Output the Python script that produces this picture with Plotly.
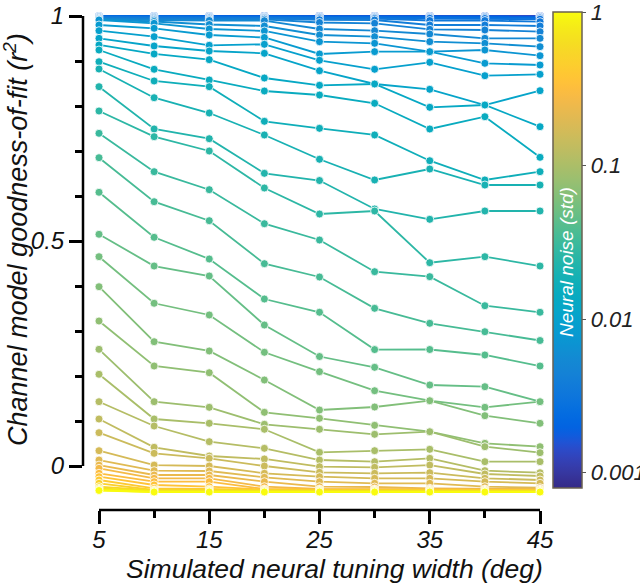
import numpy as np
import plotly.graph_objects as go

# ---------------- data ----------------
widths = [5, 10, 15, 20, 25, 30, 35, 40, 45]

noise_std = [0.000794, 0.000919, 0.001063, 0.001229, 0.001422, 0.001645, 0.001904,
             0.002203, 0.002547, 0.002947, 0.003409, 0.003944, 0.004562, 0.005278,
             0.006106, 0.007063, 0.008171, 0.009451, 0.010934, 0.012648, 0.014631,
             0.016926, 0.019580, 0.022650, 0.026202, 0.030310, 0.035063, 0.040561,
             0.046920, 0.054278, 0.062790, 0.072630, 0.084030, 0.097200, 0.112460,
             0.130090, 0.150490, 0.174080, 0.201400, 0.232970, 0.269500, 0.311760,
             0.360660, 0.417220, 0.482640, 0.558340, 0.645890, 0.747170, 0.864340, 1.0]

r2 = [
    [1.0, 1.0, 1.0, 1.0, 1.0, 1.0, 1.0, 1.0, 1.0],
    [1.0, 1.0, 1.0, 1.0, 1.0, 1.0, 1.0, 1.0, 1.0],
    [1.0, 1.0, 1.0, 1.0, 1.0, 1.0, 1.0, 1.0, 1.0],
    [1.0, 1.0, 1.0, 1.0, 1.0, 1.0, 1.0, 1.0, 1.0],
    [1.0, 1.0, 1.0, 1.0, 1.0, 1.0, 1.0, 1.0, 1.0],
    [1.0, 1.0, 1.0, 1.0, 1.0, 1.0, 0.9993, 0.9993, 0.9993],
    [1.0, 1.0, 1.0, 0.9993, 0.9993, 0.9993, 0.9987, 0.9987, 0.9984],
    [0.9996, 0.9993, 0.9991, 0.9987, 0.9984, 0.9984, 0.9978, 0.9978, 0.9973],
    [0.9991, 0.9984, 0.9982, 0.9978, 0.9973, 0.9973, 0.9967, 0.9964, 0.9956],
    [0.9984, 0.9973, 0.9971, 0.9969, 0.9960, 0.9960, 0.9949, 0.9944, 0.9929],
    [0.9973, 0.9960, 0.9956, 0.9956, 0.9942, 0.9944, 0.9900, 0.9900, 0.9873],
    [0.9960, 0.9944, 0.9933, 0.9942, 0.9916, 0.9911, 0.9800, 0.9800, 0.9778],
    [0.9947, 0.9927, 0.9916, 0.9927, 0.9856, 0.9838, 0.9704, 0.9689, 0.9651],
    [0.9933, 0.9907, 0.9900, 0.9896, 0.9711, 0.9673, 0.9600, 0.9504, 0.9504],
    [0.9922, 0.9878, 0.9811, 0.9778, 0.9578, 0.9540, 0.9429, 0.9393, 0.9318],
    [0.9911, 0.9838, 0.9711, 0.9667, 0.9429, 0.9393, 0.9207, 0.9244, 0.9118],
    [0.9800, 0.9727, 0.9578, 0.9522, 0.9156, 0.9207, 0.9207, 0.8949, 0.8911],
    [0.9673, 0.9540, 0.9349, 0.9371, 0.9016, 0.8816, 0.8971, 0.8673, 0.8704],
    [0.9504, 0.9333, 0.9222, 0.9171, 0.8784, 0.8489, 0.8371, 0.8022, 0.8340],
    [0.9356, 0.9156, 0.9029, 0.8622, 0.8460, 0.8489, 0.7971, 0.8022, 0.7540],
    [0.9244, 0.8816, 0.8578, 0.8333, 0.8244, 0.8060, 0.7489, 0.7762, 0.6860],
    [0.8984, 0.8556, 0.8429, 0.7660, 0.7504, 0.7356, 0.6784, 0.6356, 0.6540],
    [0.8822, 0.8184, 0.7844, 0.7356, 0.6816, 0.6356, 0.6600, 0.6244, 0.6244],
    [0.8429, 0.7489, 0.7273, 0.6504, 0.6344, 0.5711, 0.5482, 0.5667, 0.5667],
    [0.7889, 0.7318, 0.7000, 0.6178, 0.5600, 0.5667, 0.4518, 0.4651, 0.4444],
    [0.7393, 0.6540, 0.6140, 0.5384, 0.5022, 0.4318, 0.4207, 0.3562, 0.3416],
    [0.6851, 0.5873, 0.5451, 0.4496, 0.4200, 0.3504, 0.3171, 0.2984, 0.2789],
    [0.6082, 0.5082, 0.4600, 0.3711, 0.3416, 0.2587, 0.2589, 0.2467, 0.2222],
    [0.5149, 0.4444, 0.4222, 0.3133, 0.2433, 0.2193, 0.1800, 0.1762, 0.1429],
    [0.4651, 0.3616, 0.3356, 0.2527, 0.2096, 0.1673, 0.1451, 0.1304, 0.1429],
    [0.3984, 0.2762, 0.2556, 0.1911, 0.1244, 0.1311, 0.1451, 0.1118, 0.0949],
    [0.3222, 0.2222, 0.2073, 0.1193, 0.1060, 0.0904, 0.0762, 0.0504, 0.0429],
    [0.2593, 0.1429, 0.1304, 0.0927, 0.0816, 0.0704, 0.0762, 0.0429, 0.0296],
    [0.2038, 0.1044, 0.0949, 0.0816, 0.0304, 0.0340, 0.0371, 0.0096, 0.0096],
    [0.1429, 0.0889, 0.0540, 0.0393, 0.0133, 0.0096, 0.0171, -0.0104, -0.0149],
    [0.1044, 0.0416, 0.0222, 0.0156, -0.0016, -0.0029, 0.0020, -0.0178, -0.0222],
    [0.0740, 0.0282, 0.0171, 0.0000, -0.0140, -0.0162, -0.0149, -0.0273, -0.0311],
    [0.0340, 0.0020, 0.0000, -0.0162, -0.0238, -0.0273, -0.0273, -0.0349, -0.0384],
    [0.0133, -0.0104, -0.0111, -0.0251, -0.0349, -0.0384, -0.0384, -0.0460, -0.0482],
    [0.0020, -0.0200, -0.0200, -0.0349, -0.0460, -0.0467, -0.0496, -0.0511, -0.0511],
    [-0.0051, -0.0273, -0.0273, -0.0460, -0.0511, -0.0511, -0.0511, -0.0522, -0.0522],
    [-0.0162, -0.0349, -0.0349, -0.0511, -0.0522, -0.0522, -0.0522, -0.0533, -0.0533],
    [-0.0238, -0.0422, -0.0460, -0.0522, -0.0533, -0.0533, -0.0533, -0.0533, -0.0533],
    [-0.0311, -0.0496, -0.0511, -0.0533, -0.0533, -0.0533, -0.0533, -0.0544, -0.0544],
    [-0.0384, -0.0533, -0.0533, -0.0544, -0.0544, -0.0544, -0.0544, -0.0544, -0.0544],
    [-0.0460, -0.0544, -0.0544, -0.0544, -0.0544, -0.0544, -0.0544, -0.0556, -0.0556],
    [-0.0496, -0.0556, -0.0556, -0.0556, -0.0556, -0.0556, -0.0556, -0.0556, -0.0556],
    [-0.0518, -0.0556, -0.0556, -0.0556, -0.0556, -0.0556, -0.0556, -0.0567, -0.0567],
    [-0.0533, -0.0578, -0.0578, -0.0578, -0.0578, -0.0578, -0.0578, -0.0578, -0.0578],
    [-0.0544, -0.0578, -0.0578, -0.0578, -0.0578, -0.0578, -0.0578, -0.0578, -0.0578],
]

x_major_ticks = [5, 15, 25, 35, 45]
x_minor_ticks = [10, 20, 30, 40]
y_major_ticks = [0, 0.5, 1]
y_major_text = ["0", "0.5", "1"]
y_minor_ticks = [0.1, 0.2, 0.3, 0.4, 0.6, 0.7, 0.8, 0.9]
cbar_ticks = [0.001, 0.01, 0.1, 1]
cbar_tick_text = ["0.001", "0.01", "0.1", "1"]

x_title = "Simulated neural tuning width (deg)"
y_title = "Channel model goodness-of-fit (<i>r</i><sup>2</sup>)"
cbar_title = "Neural noise (std)"

# ---------------- style ----------------
PARULA = [
    (0.2081, 0.1663, 0.5292), (0.2116, 0.1898, 0.5777), (0.2123, 0.2138, 0.6270),
    (0.2081, 0.2386, 0.6771), (0.1959, 0.2645, 0.7279), (0.1707, 0.2919, 0.7792),
    (0.1253, 0.3242, 0.8303), (0.0591, 0.3598, 0.8683), (0.0117, 0.3875, 0.8820),
    (0.0060, 0.4086, 0.8828), (0.0165, 0.4266, 0.8786), (0.0329, 0.4430, 0.8720),
    (0.0498, 0.4586, 0.8641), (0.0629, 0.4737, 0.8554), (0.0723, 0.4887, 0.8467),
    (0.0779, 0.5040, 0.8384), (0.0793, 0.5200, 0.8312), (0.0749, 0.5375, 0.8263),
    (0.0641, 0.5570, 0.8240), (0.0488, 0.5772, 0.8228), (0.0343, 0.5966, 0.8199),
    (0.0265, 0.6137, 0.8135), (0.0239, 0.6287, 0.8038), (0.0231, 0.6418, 0.7913),
    (0.0228, 0.6535, 0.7768), (0.0267, 0.6642, 0.7607), (0.0384, 0.6743, 0.7436),
    (0.0590, 0.6838, 0.7254), (0.0843, 0.6928, 0.7062), (0.1133, 0.7015, 0.6859),
    (0.1453, 0.7098, 0.6646), (0.1801, 0.7177, 0.6424), (0.2178, 0.7250, 0.6193),
    (0.2586, 0.7317, 0.5954), (0.3022, 0.7376, 0.5712), (0.3482, 0.7424, 0.5473),
    (0.3953, 0.7459, 0.5244), (0.4420, 0.7481, 0.5033), (0.4871, 0.7491, 0.4840),
    (0.5300, 0.7491, 0.4661), (0.5709, 0.7485, 0.4494), (0.6099, 0.7473, 0.4337),
    (0.6473, 0.7456, 0.4188), (0.6834, 0.7435, 0.4044), (0.7184, 0.7411, 0.3905),
    (0.7525, 0.7384, 0.3768), (0.7858, 0.7356, 0.3633), (0.8185, 0.7327, 0.3498),
    (0.8507, 0.7299, 0.3360), (0.8824, 0.7274, 0.3217), (0.9139, 0.7258, 0.3063),
    (0.9450, 0.7261, 0.2886), (0.9739, 0.7314, 0.2666), (0.9938, 0.7455, 0.2403),
    (0.9990, 0.7653, 0.2164), (0.9955, 0.7861, 0.1967), (0.9880, 0.8066, 0.1794),
    (0.9789, 0.8271, 0.1633), (0.9697, 0.8481, 0.1475), (0.9626, 0.8705, 0.1309),
    (0.9589, 0.8949, 0.1132), (0.9598, 0.9218, 0.0948), (0.9661, 0.9514, 0.0755),
    (0.9763, 0.9831, 0.0538),
]
N_P = len(PARULA)


def rgb_str(c):
    return "rgb(%d,%d,%d)" % tuple(int(round(255 * v)) for v in c)


def parula(t):
    t = min(max(t, 0.0), 1.0) * (N_P - 1)
    k = int(np.floor(t))
    if k >= N_P - 1:
        return rgb_str(PARULA[-1])
    f = t - k
    a, b = PARULA[k], PARULA[k + 1]
    return rgb_str(tuple(a[j] + (b[j] - a[j]) * f for j in range(3)))


colorscale = [[k / (N_P - 1), rgb_str(c)] for k, c in enumerate(PARULA)]

FONT = "Liberation Sans, Arial, Helvetica, sans-serif"
W, H = 640, 586
# pixel anchors of the plot frame
PL, PR, PT, PB = 83, 546, 8, 510
X5_PX, X45_PX = 99, 540
Y1_PX, Y0_PX = 16, 466

ppx = (X45_PX - X5_PX) / (widths[-1] - widths[0])
ppy = (Y0_PX - Y1_PX) / 1.0
x_range = [widths[0] - (X5_PX - PL) / ppx, widths[-1] + (PR - X45_PX) / ppx]
y_range = [0 - (PB - Y0_PX) / ppy, 1 + (Y1_PX - PT) / ppy]


def paper_x(px):
    return (px - PL) / (PR - PL)


def paper_y(py):
    return (PB - py) / (PB - PT)


log_noise = np.log10(noise_std)
cmin, cmax = float(log_noise.min()), float(log_noise.max())
# tiny headroom so the top tick ("1") at the very end of the bar is kept
cb_min, cb_max = cmin - 0.001, cmax + 0.001

fig = go.Figure()
for nz, ys in zip(noise_std, r2):
    t = (np.log10(nz) - cmin) / (cmax - cmin)
    c = parula(t)
    fig.add_trace(go.Scatter(
        x=widths, y=ys, mode="lines+markers",
        line=dict(color=c, width=1.8),
        marker=dict(size=8, color=c, line=dict(color="white", width=0.8)),
        cliponaxis=False, showlegend=False, hoverinfo="skip",
    ))

# colorbar carrier
CB_TOP, CB_BOT, CB_LEFT, CB_W = 12, 488, 553, 29
fig.add_trace(go.Scatter(
    x=[None], y=[None], mode="markers", showlegend=False, hoverinfo="skip",
    marker=dict(
        color=[cb_min, cb_max], cmin=cb_min, cmax=cb_max, colorscale=colorscale,
        showscale=True,
        colorbar=dict(
            thickness=CB_W, thicknessmode="pixels",
            len=(CB_BOT - CB_TOP) / (PB - PT), lenmode="fraction",
            x=paper_x(CB_LEFT), xanchor="left",
            y=paper_y(CB_TOP), yanchor="top",
            xpad=0, ypad=0,
            outlinewidth=1.5, outlinecolor="#6a6050",
            tickvals=list(np.log10(cbar_ticks)), ticktext=cbar_tick_text,
            ticks="outside", ticklen=4, tickwidth=1, tickcolor="#555555",
            ticklabeloverflow="allow",
            tickfont=dict(family=FONT, size=22, color="#222222", style="italic"),
        ),
    ),
))

tick_common = dict(showgrid=False, zeroline=False, showline=False,
                   ticks="outside", tickwidth=2.5, tickcolor="black")

fig.update_layout(
    width=W, height=H,
    margin=dict(l=PL, r=W - PR, t=PT, b=H - PB, autoexpand=False),
    paper_bgcolor="white", plot_bgcolor="white",
    font=dict(family=FONT, color="#111111"),
    xaxis=dict(range=x_range, tickvals=x_major_ticks, ticklen=13, ticklabelstandoff=-5,
               tickfont=dict(family=FONT, size=24, color="#111111", style="italic"),
               minor=dict(tickvals=x_minor_ticks, ticks="outside", ticklen=7,
                          tickwidth=2.5, tickcolor="black", showgrid=False),
               automargin=False, **tick_common),
    yaxis=dict(range=y_range, tickvals=y_major_ticks, ticktext=y_major_text, ticklen=13,
               tickfont=dict(family=FONT, size=24, color="#111111", style="italic"),
               minor=dict(tickvals=y_minor_ticks, ticks="outside", ticklen=7,
                          tickwidth=2.5, tickcolor="black", showgrid=False),
               automargin=False, **tick_common),
    shapes=[
        dict(type="line", xref="paper", x0=0, x1=0, yref="y", y0=0, y1=1,
             line=dict(color="black", width=2.5)),
        dict(type="line", xref="x", x0=widths[0], x1=widths[-1], yref="paper", y0=0, y1=0,
             line=dict(color="black", width=2.5)),
    ],
    annotations=[
        dict(text=x_title, xref="paper", yref="paper", x=paper_x(334), y=paper_y(569),
             xanchor="center", yanchor="middle", showarrow=False,
             font=dict(family=FONT, size=26.5, color="#111111", style="italic")),
        dict(text=y_title, xref="paper", yref="paper", x=paper_x(16), y=paper_y(240),
             xanchor="center", yanchor="middle", showarrow=False, textangle=-90,
             font=dict(family=FONT, size=27, color="#111111", style="italic")),
        dict(text=cbar_title, xref="paper", yref="paper", x=paper_x(566), y=paper_y(262),
             xanchor="center", yanchor="middle", showarrow=False, textangle=-90,
             font=dict(family=FONT, size=19, color="white", style="italic")),
    ],
)

fig.write_html("out.html", config={"displayModeBar": False},
               post_script="document.body.style.margin='0';")
